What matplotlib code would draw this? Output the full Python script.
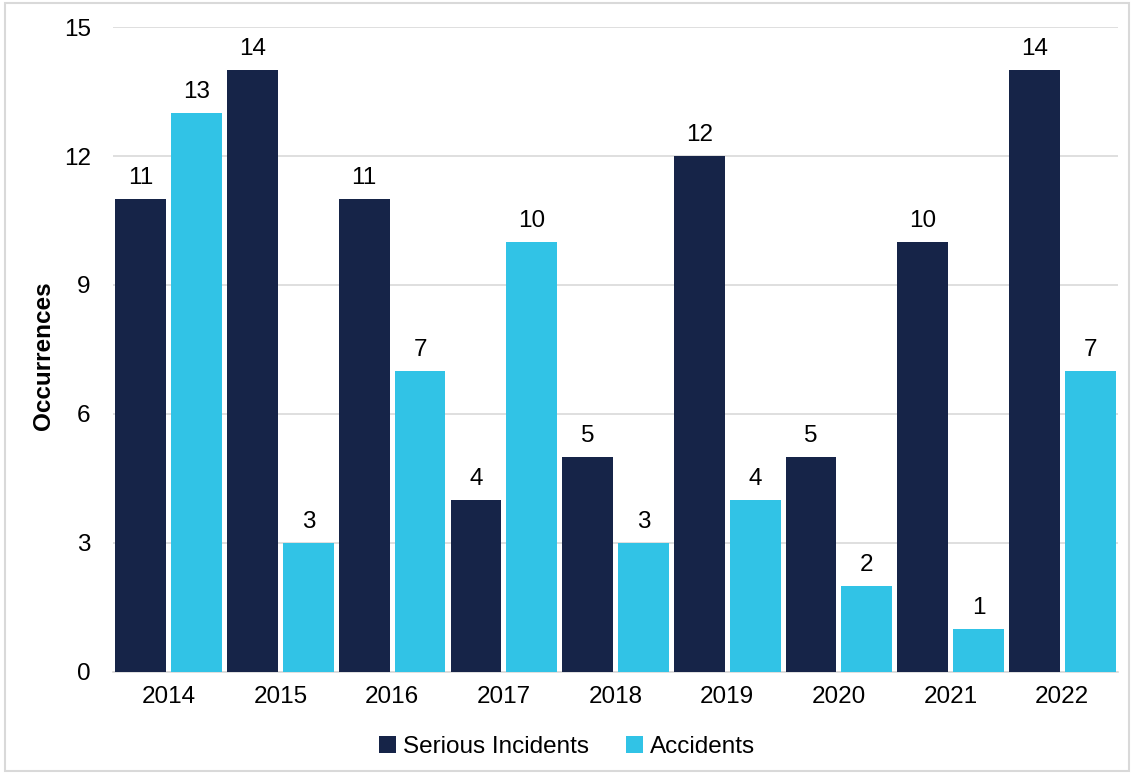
import matplotlib.pyplot as plt
import numpy as np

plt.rcParams['font.family'] = ['Liberation Sans', 'DejaVu Sans']

years = ['2014', '2015', '2016', '2017', '2018', '2019', '2020', '2021', '2022']
serious = [11, 14, 11, 4, 5, 12, 5, 10, 14]
accidents = [13, 3, 7, 10, 3, 4, 2, 1, 7]

dark = '#162448'
light = '#31C3E6'

fig = plt.figure(figsize=(11.34, 7.74), dpi=100)
ax = fig.add_axes([0.0996, 0.132, 0.8864, 0.833])

x = np.arange(len(years))
w = 0.455
b1 = ax.bar(x - 0.25, serious, w, color=dark, label='Serious Incidents', zorder=3)
b2 = ax.bar(x + 0.25, accidents, w, color=light, label='Accidents', zorder=3)

for bars in (b1, b2):
    for bar in bars:
        h = bar.get_height()
        ax.annotate(f'{h:.0f}', (bar.get_x() + bar.get_width() / 2, h),
                    xytext=(0, 7), textcoords='offset points',
                    ha='center', va='bottom', fontsize=17.5)

ax.set_xlim(-0.5, len(years) - 0.5)
ax.set_ylim(0, 15)
ax.set_yticks(range(0, 16, 3))
ax.set_xticks(x)
ax.set_xticklabels(years)
ax.tick_params(axis='both', length=0, labelsize=17.5, pad=10)
ax.tick_params(axis='y', pad=16)
ax.grid(axis='y', color='#d9d9d9', linewidth=1.2, zorder=0)
ax.set_axisbelow(True)
for s in ['top', 'right', 'left']:
    ax.spines[s].set_visible(False)
ax.spines['bottom'].set_color('#d9d9d9')
ax.spines['bottom'].set_linewidth(1.2)
ax.set_ylabel('Occurrences', fontsize=17.5, fontweight='bold')
ax.yaxis.set_label_coords(-0.058, 0.49)

fig.legend(loc='lower center', bbox_to_anchor=(0.5, -0.008), ncol=2, frameon=False,
           fontsize=17.5, handlelength=0.7, handleheight=0.7, handletextpad=0.3, columnspacing=1.5)

fig.add_artist(plt.Rectangle((0.004, 0.004), 0.992, 0.992, transform=fig.transFigure,
                             fill=False, edgecolor='#d9d9d9', linewidth=1.5))

fig.savefig('out.png', dpi=100)
